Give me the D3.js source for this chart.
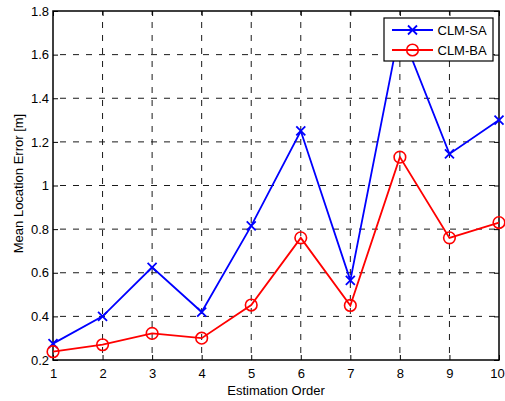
<!DOCTYPE html>
<html><head><meta charset="utf-8">
<script src="https://cdn.jsdelivr.net/npm/d3@7"></script>
<style>body{margin:0;background:#fff}svg{display:block}text{font-family:Arial,"Liberation Sans",sans-serif}</style>
</head><body>
<svg id="c" width="505" height="401"></svg>
<script>
const orders = [1,2,3,4,5,6,7,8,9,10];
const clmSA = [0.275,0.40,0.625,0.42,0.815,1.25,0.565,1.72,1.145,1.30];
const clmBA = [0.238,0.27,0.322,0.30,0.452,0.76,0.45,1.13,0.76,0.83];
const yTicks = [0.2,0.4,0.6,0.8,1,1.2,1.4,1.6,1.8];
const seriesNames = ["CLM-SA","CLM-BA"];

const svg = d3.select("#c");
const L=53,R=499,T=11,B=360;
const x = d3.scaleLinear().domain([1,10]).range([L,R]);
const y = d3.scaleLinear().domain([0.2,1.8]).range([B,T]);

// grid
const g = svg.append("g");
g.selectAll(".vg").data(orders.slice(1,-1)).enter().append("line")
  .attr("x1",d=>x(d)).attr("x2",d=>x(d)).attr("y1",B).attr("y2",T)
  .attr("stroke","#1a1a1a").attr("stroke-width",1).attr("stroke-dasharray","6,7").attr("stroke-dashoffset",6);
g.selectAll(".hg").data(yTicks.slice(1,-1)).enter().append("line")
  .attr("y1",d=>y(d)).attr("y2",d=>y(d)).attr("x1",L).attr("x2",R)
  .attr("stroke","#1a1a1a").attr("stroke-width",1).attr("stroke-dasharray","6,7").attr("stroke-dashoffset",6);

// axes (ticks inward on all four sides)
const fmt = d=>d3.format("")(d);
const axB = d3.axisBottom(x).tickValues(orders).tickSizeInner(-5).tickSizeOuter(0).tickPadding(9).tickFormat(fmt);
const axT = d3.axisTop(x).tickValues(orders).tickSizeInner(-5).tickSizeOuter(0).tickFormat("");
const axLf = d3.axisLeft(y).tickValues(yTicks).tickSizeInner(-5).tickSizeOuter(0).tickPadding(4).tickFormat(fmt);
const axRt = d3.axisRight(y).tickValues(yTicks).tickSizeInner(-5).tickSizeOuter(0).tickFormat("");
function style(sel){
  sel.selectAll("path").remove();
  sel.selectAll("line").attr("stroke","#000").attr("stroke-width",1);
  sel.selectAll("text").attr("fill","#000").style("font-size","13px").style("font-family","Arial, 'Liberation Sans', sans-serif");
}
const gB = svg.append("g").attr("transform",`translate(0,${B})`).call(axB).call(style);
// keep the last label inside the window edge
gB.selectAll(".tick text").filter(d=>d===10).attr("dx",-2);
svg.append("g").attr("transform",`translate(0,${T})`).call(axT).call(style);
svg.append("g").attr("transform",`translate(${L},0)`).call(axLf).call(style);
svg.append("g").attr("transform",`translate(${R},0)`).call(axRt).call(style);

svg.append("rect").attr("x",L).attr("y",T).attr("width",R-L).attr("height",B-T)
  .attr("fill","none").attr("stroke","#000").attr("stroke-width",1.5);

const line = d3.line().x((d,i)=>x(orders[i])).y(d=>y(d));
function xMark(sel,s,color){
  sel.append("path").attr("d",`M${-s},${-s}L${s},${s}M${-s},${s}L${s},${-s}`)
    .attr("stroke",color).attr("stroke-width",1.8).attr("fill","none");
}
// SA
svg.append("path").datum(clmSA).attr("d",line).attr("fill","none").attr("stroke","#0000ff").attr("stroke-width",1.8);
svg.selectAll(".sa").data(clmSA).enter().append("g")
  .attr("transform",(d,i)=>`translate(${x(orders[i])},${y(d)})`).each(function(){xMark(d3.select(this),4.5,"#0000ff");});
// BA
svg.append("path").datum(clmBA).attr("d",line).attr("fill","none").attr("stroke","#ff0000").attr("stroke-width",1.8);
svg.selectAll(".ba").data(clmBA).enter().append("circle")
  .attr("cx",(d,i)=>x(orders[i])).attr("cy",d=>y(d)).attr("r",5.8)
  .attr("fill","none").attr("stroke","#ff0000").attr("stroke-width",1.6);

// legend
const lg = svg.append("g");
lg.append("rect").attr("x",384).attr("y",18).attr("width",109).attr("height",43)
  .attr("fill","#fff").attr("stroke","#000").attr("stroke-width",1.2);
const colors=["#0000ff","#ff0000"];
seriesNames.forEach((n,i)=>{
  const yy = 30+i*20;
  lg.append("line").attr("x1",392).attr("x2",433).attr("y1",yy).attr("y2",yy).attr("stroke",colors[i]).attr("stroke-width",1.8);
  if(i===0){ const m=lg.append("g").attr("transform",`translate(412.5,${yy})`); xMark(m,4.5,colors[i]); }
  else lg.append("circle").attr("cx",412.5).attr("cy",yy).attr("r",5.8).attr("fill","none").attr("stroke",colors[i]).attr("stroke-width",1.6);
  lg.append("text").attr("x",437.5).attr("y",yy+4.5).text(n).style("font-size","13px").attr("fill","#000");
});

// axis labels
svg.append("text").attr("x",(L+R)/2).attr("y",394.5).attr("text-anchor","middle").style("font-size","13px").text("Estimation Order");
svg.append("text").attr("transform",`translate(22.5,${(T+B)/2 - 2}) rotate(-90)`).attr("text-anchor","middle").style("font-size","13px").text("Mean Location Error [m]");
</script>
</body></html>
